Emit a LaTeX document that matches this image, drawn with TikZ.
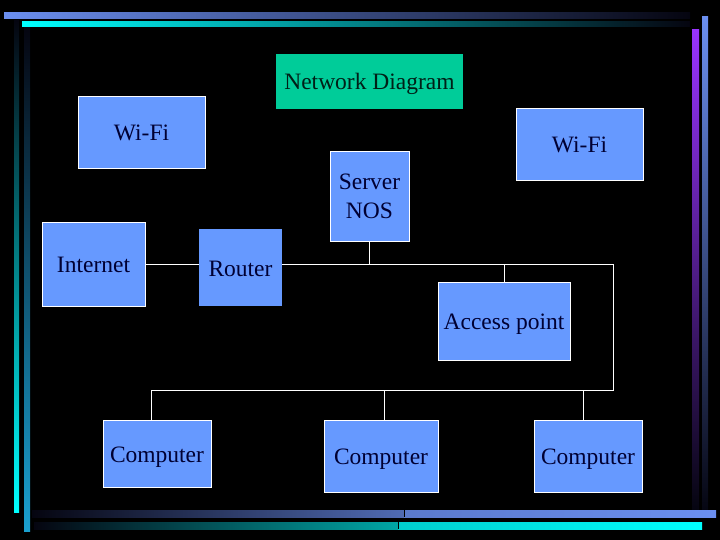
\documentclass[tikz,border=0pt]{standalone}
\usepackage{fontspec}
\setmainfont{Liberation Serif}
\definecolor{boxblue}{HTML}{6699FF}
\definecolor{titlegreen}{HTML}{00CC99}
\definecolor{navytext}{HTML}{000033}
\definecolor{barblue}{HTML}{6B8FF0}
\definecolor{barcyan}{HTML}{00FFFF}
\definecolor{bardeepcyan}{HTML}{1AA0D0}
\definecolor{barpurple}{HTML}{9933FF}
\definecolor{bardark}{HTML}{050510}
\tikzset{
  box/.style={draw=white, line width=0.9pt, fill=boxblue, text=navytext,
    font=\fontsize{23.5}{29}\selectfont, align=center, inner sep=0pt},
  oneline/.style={text height=21pt, text depth=4pt},
  plainbox/.style={box, draw=none},
  titlebox/.style={box, draw=none, fill=titlegreen, text=black!85!titlegreen},
  conn/.style={draw=white, line width=1pt},
}
\begin{document}
\begin{tikzpicture}[x=1pt,y=-1pt]
\fill[black] (0,0) rectangle (720,540);
\useasboundingbox (0,0) rectangle (720,540);
% decorative bars
\shade[left color=barblue, right color=bardark] (4,13) rectangle (690,19);
\shade[left color=barcyan, right color=bardark] (22,22) rectangle (690,27);
\shade[top color=bardark, bottom color=barcyan] (14,21) rectangle (19,512);
\shade[top color=bardark, bottom color=bardeepcyan] (24,28) rectangle (30,531);
\shade[top color=barpurple, bottom color=bardark] (692,30) rectangle (699,510);
\shade[top color=barblue, bottom color=bardark] (702,17) rectangle (708,514);
\shade[left color=bardark, right color=barblue!75!black] (32,510) rectangle (404,517);
\shade[left color=barblue!85!black, right color=barblue] (404,510) rectangle (716,517);
\shade[left color=bardark, right color=barcyan!65!black] (34,522) rectangle (398,529);
\shade[left color=barcyan!80!black, right color=barcyan] (398,522) rectangle (702,529);
\draw[black, line width=0.8pt] (404,510) -- (404,517);
\draw[black, line width=0.8pt] (398,522) -- (398,529);
% nodes
\node[titlebox, oneline, minimum width=187pt, minimum height=55pt] (title) at (369.5,81.5) {Network Diagram};
\node[box, oneline, minimum width=127pt, minimum height=72pt] (wifi1) at (141.5,132) {Wi-Fi};
\node[box, oneline, minimum width=127pt, minimum height=72pt] (wifi2) at (579.5,144) {Wi-Fi};
\node[box, minimum width=79pt, minimum height=90pt] (server) at (369.5,196) {Server\\NOS};
\node[box, oneline, minimum width=103pt, minimum height=84pt] (internet) at (93.5,264) {Internet};
\node[plainbox, oneline, minimum width=83pt, minimum height=77pt] (router) at (240.5,267.5) {Router};
\node[box, oneline, minimum width=132pt, minimum height=78pt] (ap) at (504,321) {Access point};
\node[box, oneline, minimum width=108pt, minimum height=67pt] (c1) at (157,453.5) {Computer};
\node[box, oneline, minimum width=114pt, minimum height=72pt] (c2) at (381,456) {Computer};
\node[box, oneline, minimum width=108pt, minimum height=72pt] (c3) at (588,456) {Computer};
% connectors
\coordinate (busR) at (613,264);
\coordinate (busB) at (613,390);
\coordinate (d1) at (151,390);
\coordinate (d2) at (384,390);
\coordinate (d3) at (583,390);
\draw[conn] (internet.east) -- (internet.east -| router.west);
\draw[conn] (router.east |- busR) -- (busR) -- (busB) -- (d1) -- (d1 |- c1.north);
\draw[conn] (server.south) -- (server.south |- busR);
\draw[conn] (ap.north |- busR) -- (ap.north);
\draw[conn] (d2) -- (d2 |- c2.north);
\draw[conn] (d3) -- (d3 |- c3.north);
\end{tikzpicture}
\end{document}
